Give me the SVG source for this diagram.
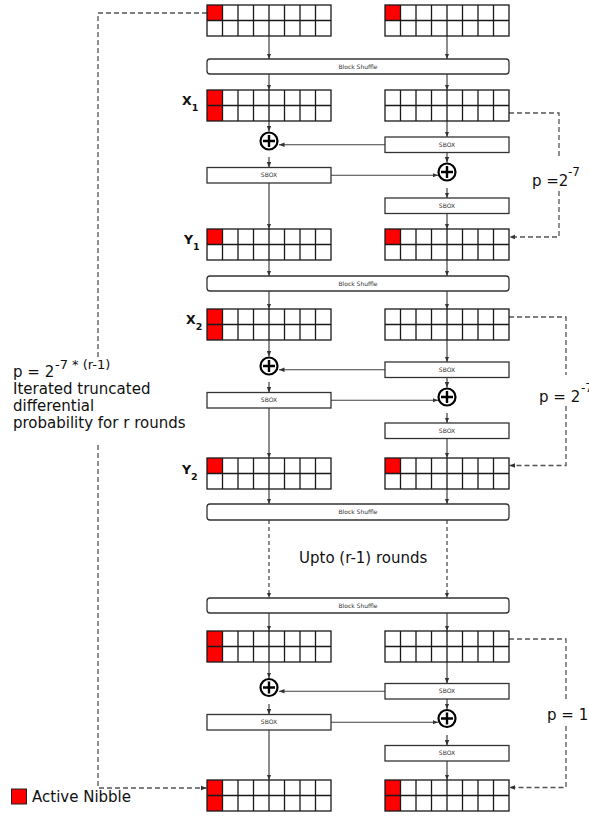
<svg xmlns="http://www.w3.org/2000/svg" xmlns:xlink="http://www.w3.org/1999/xlink" width="589" height="817" viewBox="0 0 589 817">
<style>
.cell{fill:#fff;stroke:none}
.red{fill:#f00;stroke:none}
.gl{fill:none;stroke:#1a1a1a;stroke-width:1.3}
.box{fill:#fff;stroke:#333;stroke-width:1.3}
.bt{font-family:"DejaVu Sans",sans-serif;font-size:6px;fill:#333;text-anchor:middle}
.xor circle{fill:#fff;stroke:#000;stroke-width:2.2}
.xor path{stroke:#000;stroke-width:2.4;fill:none}
.ar{stroke:#404040;stroke-width:1.2;fill:none;marker-end:url(#ah)}
.da{stroke:#404040;stroke-width:1.2;fill:none;stroke-dasharray:4,3;marker-end:url(#ah)}
.dl{stroke:#555;stroke-width:1.3;fill:none;stroke-dasharray:5,3}
.dla{stroke:#555;stroke-width:1.3;fill:none;stroke-dasharray:5,3;marker-end:url(#ah)}
.lbl{font-family:"DejaVu Sans",sans-serif;font-weight:bold;font-size:12.5px;fill:#111}
.t{font-family:"DejaVu Sans",sans-serif;font-size:15px;fill:#111}
</style>
<defs>
<marker id="ah" viewBox="0 0 10 10" refX="10" refY="5" markerWidth="5.5" markerHeight="5.5" orient="auto" markerUnits="userSpaceOnUse"><path d="M0,1 L10,5 L0,9 z" fill="#333"/></marker>
<g id="gl" class="gl"><rect x="0" y="0" width="124" height="31"/><path d="M15.5,0V31M31,0V31M46.5,0V31M62,0V31M77.5,0V31M93,0V31M108.5,0V31M0,15.5H124"/></g>
<g id="xs" class="xor"><circle cx="0" cy="0" r="8.5"/><path d="M-6,0H6M0,-6V6"/></g>
</defs>

<g id="connectors">
<line class="ar" x1="269" y1="36" x2="269" y2="59"/>
<line class="ar" x1="447" y1="36" x2="447" y2="59"/>
<line class="ar" x1="269" y1="74" x2="269" y2="90"/>
<line class="ar" x1="447" y1="74" x2="447" y2="90"/>
<line class="ar" x1="269" y1="121" x2="269" y2="131.5"/>
<line class="ar" x1="447" y1="121" x2="447" y2="137"/>
<line class="ar" x1="385" y1="144.75" x2="279" y2="144.75"/>
<line class="ar" x1="269" y1="157" x2="269" y2="167.5"/>
<line class="ar" x1="447" y1="152.5" x2="447" y2="162.5"/>
<line class="ar" x1="331" y1="175.25" x2="438" y2="175.25"/>
<line class="ar" x1="447" y1="188" x2="447" y2="198"/>
<line class="ar" x1="269" y1="183" x2="269" y2="229"/>
<line class="ar" x1="447" y1="213.5" x2="447" y2="229"/>
<line class="ar" x1="269" y1="260" x2="269" y2="276"/>
<line class="ar" x1="447" y1="260" x2="447" y2="276"/>
<line class="ar" x1="269" y1="291" x2="269" y2="309"/>
<line class="ar" x1="447" y1="291" x2="447" y2="309"/>
<line class="ar" x1="269" y1="340" x2="269" y2="356.5"/>
<line class="ar" x1="447" y1="340" x2="447" y2="362"/>
<line class="ar" x1="385" y1="369.75" x2="279" y2="369.75"/>
<line class="ar" x1="269" y1="382" x2="269" y2="392.5"/>
<line class="ar" x1="447" y1="377.5" x2="447" y2="387.5"/>
<line class="ar" x1="331" y1="400.25" x2="438" y2="400.25"/>
<line class="ar" x1="447" y1="413" x2="447" y2="423"/>
<line class="ar" x1="269" y1="408" x2="269" y2="458"/>
<line class="ar" x1="447" y1="438.5" x2="447" y2="458"/>
<line class="ar" x1="269" y1="489" x2="269" y2="504"/>
<line class="ar" x1="447" y1="489" x2="447" y2="504"/>
<line class="da" x1="269" y1="520" x2="269" y2="598"/>
<line class="da" x1="447" y1="520" x2="447" y2="598"/>
<line class="ar" x1="269" y1="613" x2="269" y2="631"/>
<line class="ar" x1="447" y1="613" x2="447" y2="631"/>
<line class="ar" x1="269" y1="662" x2="269" y2="678"/>
<line class="ar" x1="447" y1="662" x2="447" y2="683.5"/>
<line class="ar" x1="385" y1="691.25" x2="279" y2="691.25"/>
<line class="ar" x1="269" y1="704" x2="269" y2="714.5"/>
<line class="ar" x1="447" y1="699" x2="447" y2="709"/>
<line class="ar" x1="331" y1="722.25" x2="438" y2="722.25"/>
<line class="ar" x1="447" y1="735" x2="447" y2="745.5"/>
<line class="ar" x1="269" y1="730" x2="269" y2="780"/>
<line class="ar" x1="447" y1="761" x2="447" y2="780"/>
<path class="dl" d="M509,113H559V158"/>
<path class="dla" d="M559,191V237H509.5"/>
<path class="dl" d="M509,317H566V375"/>
<path class="dla" d="M566,406V465.5H509.5"/>
<path class="dl" d="M509,639H566V702"/>
<path class="dla" d="M566,726V787.5H509.5"/>
<path class="dl" d="M207,13H98V357"/>
<path class="dla" d="M98,445V788H206.5"/>
</g>

<g id="in-l" transform="translate(207,5)"><rect class="cell" width="124" height="31"/><rect class="red" width="15.5" height="15.5"/><use href="#gl"/></g>
<g id="in-r" transform="translate(385,5)"><rect class="cell" width="124" height="31"/><rect class="red" width="15.5" height="15.5"/><use href="#gl"/></g>
<g id="x1-l" transform="translate(207,90)"><rect class="cell" width="124" height="31"/><rect class="red" width="15.5" height="31"/><use href="#gl"/></g>
<g id="x1-r" transform="translate(385,90)"><rect class="cell" width="124" height="31"/><use href="#gl"/></g>
<g id="y1-l" transform="translate(207,229)"><rect class="cell" width="124" height="31"/><rect class="red" width="15.5" height="15.5"/><use href="#gl"/></g>
<g id="y1-r" transform="translate(385,229)"><rect class="cell" width="124" height="31"/><rect class="red" width="15.5" height="15.5"/><use href="#gl"/></g>
<g id="x2-l" transform="translate(207,309)"><rect class="cell" width="124" height="31"/><rect class="red" width="15.5" height="31"/><use href="#gl"/></g>
<g id="x2-r" transform="translate(385,309)"><rect class="cell" width="124" height="31"/><use href="#gl"/></g>
<g id="y2-l" transform="translate(207,458)"><rect class="cell" width="124" height="31"/><rect class="red" width="15.5" height="15.5"/><use href="#gl"/></g>
<g id="y2-r" transform="translate(385,458)"><rect class="cell" width="124" height="31"/><rect class="red" width="15.5" height="15.5"/><use href="#gl"/></g>
<g id="x3-l" transform="translate(207,631)"><rect class="cell" width="124" height="31"/><rect class="red" width="15.5" height="31"/><use href="#gl"/></g>
<g id="x3-r" transform="translate(385,631)"><rect class="cell" width="124" height="31"/><use href="#gl"/></g>
<g id="out-l" transform="translate(207,780)"><rect class="cell" width="124" height="31"/><rect class="red" width="15.5" height="31"/><use href="#gl"/></g>
<g id="out-r" transform="translate(385,780)"><rect class="cell" width="124" height="31"/><rect class="red" width="15.5" height="31"/><use href="#gl"/></g>

<g id="bs1"><rect class="box" x="207" y="59" width="302" height="15" rx="3"/><text class="bt" x="358" y="68.6">Block Shuffle</text></g>
<g id="bs2"><rect class="box" x="207" y="276" width="302" height="15" rx="3"/><text class="bt" x="358" y="285.6">Block Shuffle</text></g>
<g id="bs3"><rect class="box" x="207" y="504" width="302" height="16" rx="3"/><text class="bt" x="358" y="514.1">Block Shuffle</text></g>
<g id="bs4"><rect class="box" x="207" y="598" width="302" height="15" rx="3"/><text class="bt" x="358" y="607.6">Block Shuffle</text></g>

<g id="sb1-ra"><rect class="box" x="385" y="137" width="124" height="15.5"/><text class="bt" x="447" y="146.9">SBOX</text></g>
<g id="sb1-l"><rect class="box" x="207" y="167.5" width="124" height="15.5"/><text class="bt" x="269" y="177.4">SBOX</text></g>
<g id="sb1-rb"><rect class="box" x="385" y="198" width="124" height="15.5"/><text class="bt" x="447" y="207.9">SBOX</text></g>
<g id="sb2-ra"><rect class="box" x="385" y="362" width="124" height="15.5"/><text class="bt" x="447" y="371.9">SBOX</text></g>
<g id="sb2-l"><rect class="box" x="207" y="392.5" width="124" height="15.5"/><text class="bt" x="269" y="402.4">SBOX</text></g>
<g id="sb2-rb"><rect class="box" x="385" y="423" width="124" height="15.5"/><text class="bt" x="447" y="432.9">SBOX</text></g>
<g id="sb3-ra"><rect class="box" x="385" y="683.5" width="124" height="15.5"/><text class="bt" x="447" y="693.4">SBOX</text></g>
<g id="sb3-l"><rect class="box" x="207" y="714.5" width="124" height="15.5"/><text class="bt" x="269" y="724.4">SBOX</text></g>
<g id="sb3-rb"><rect class="box" x="385" y="745.5" width="124" height="15.5"/><text class="bt" x="447" y="755.4">SBOX</text></g>

<g id="xor1-l"><use href="#xs" x="269" y="141"/></g>
<g id="xor1-r"><use href="#xs" x="447" y="172"/></g>
<g id="xor2-l"><use href="#xs" x="269" y="366"/></g>
<g id="xor2-r"><use href="#xs" x="447" y="397"/></g>
<g id="xor3-l"><use href="#xs" x="269" y="687.5"/></g>
<g id="xor3-r"><use href="#xs" x="447" y="718.5"/></g>

<g id="labels">
<text class="lbl" x="182" y="105">X<tspan font-size="9.5" dy="6">1</tspan></text>
<text class="lbl" x="184" y="244">Y<tspan font-size="9.5" dy="6">1</tspan></text>
<text class="lbl" x="186" y="324">X<tspan font-size="9.5" dy="6">2</tspan></text>
<text class="lbl" x="182" y="474">Y<tspan font-size="9.5" dy="6">2</tspan></text>
<text class="t" x="532" y="186">p =2<tspan font-size="12" x="568" dy="-10">-7</tspan></text>
<text class="t" x="539" y="402">p = 2<tspan font-size="12" x="581" dy="-10">-7</tspan></text>
<text class="t" x="547" y="720">p = 1</text>
<text class="t" x="299" y="563">Upto (r-1) rounds</text>
<text class="t" x="13" y="377">p = 2<tspan font-size="13" x="55" dy="-8">-7 * (r-1)</tspan></text>
<text class="t" x="13" y="394">Iterated truncated</text>
<text class="t" x="13" y="411">differential</text>
<text class="t" x="13" y="428">probability for r rounds</text>
</g>

<g id="legend">
<rect x="11.5" y="789" width="15" height="15" fill="#f00" stroke="#222" stroke-width="1"/>
<text class="t" x="32" y="802">Active Nibble</text>
</g>
</svg>
